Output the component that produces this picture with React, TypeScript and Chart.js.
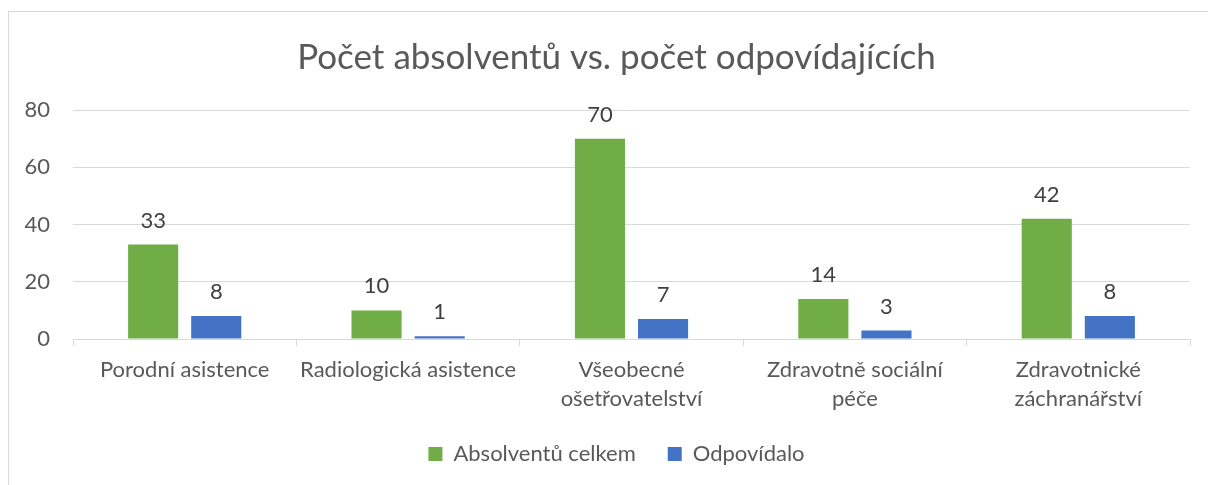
import React, { useEffect, useRef } from "react";
import { Chart, registerables } from "chart.js";

Chart.register(...registerables);

const categories: string[][] = [
  ["Porodní asistence"],
  ["Radiologická asistence"],
  ["Všeobecné", "ošetřovatelství"],
  ["Zdravotně sociální", "péče"],
  ["Zdravotnické", "záchranářství"],
];
const absolventu: number[] = [33, 10, 70, 14, 42];
const odpovidalo: number[] = [8, 1, 7, 3, 8];
const seriesNames: string[] = ["Absolventů celkem", "Odpovídalo"];
const yTicks: number[] = [0, 20, 40, 60, 80];
const titleText = "Počet absolventů vs. počet odpovídajících";

const FONT = "Lato, 'Open Sans', sans-serif";

const dataLabelPlugin = {
  id: "dataLabels",
  afterDatasetsDraw(chart: any) {
    const ctx = chart.ctx;
    ctx.save();
    ctx.font = `22px ${FONT}`;
    ctx.fillStyle = "#404040";
    ctx.textAlign = "center";
    ctx.textBaseline = "middle";
    chart.data.datasets.forEach((ds: any, di: number) => {
      const meta = chart.getDatasetMeta(di);
      meta.data.forEach((el: any, i: number) => {
        ctx.fillText(String(ds.data[i]), el.x, el.y - 24);
      });
    });
    ctx.restore();
  },
};

export default function App() {
  const ref = useRef<HTMLCanvasElement | null>(null);
  useEffect(() => {
    if (!ref.current) return;
    const chart = new Chart(ref.current, {
      type: "bar",
      data: {
        labels: categories,
        datasets: [
          {
            label: seriesNames[0],
            data: absolventu,
            backgroundColor: "#70AD47",
            categoryPercentage: 0.565,
            barPercentage: 0.794,
            yAxisID: "y",
          },
          {
            label: seriesNames[1],
            data: odpovidalo,
            backgroundColor: "#4472C4",
            categoryPercentage: 0.565,
            barPercentage: 0.794,
            yAxisID: "y",
          },
        ],
      },
      options: {
        animation: false,
        responsive: false,
        layout: { padding: { left: 0, right: 0, top: 0, bottom: 10 } },
        plugins: {
          title: {
            display: true,
            text: titleText,
            color: "#595959",
            font: { family: FONT, size: 35, weight: "normal", lineHeight: 1.2 },
            padding: { top: 25, bottom: 31 },
          },
          legend: {
            display: true,
            position: "bottom",
            labels: {
              boxWidth: 14,
              boxHeight: 14,
              padding: 32,
              color: "#595959",
              font: { family: FONT, size: 22 },
            },
          },
          tooltip: { enabled: false },
        },
        scales: {
          x: {
            grid: {
              display: true,
              drawOnChartArea: false,
              drawTicks: true,
              tickLength: 7,
              color: "#d9d9d9",
              offset: true,
            },
            border: { display: true, color: "#d9d9d9" },
            ticks: {
              color: "#595959",
              font: { family: FONT, size: 22, lineHeight: 1.318 },
              padding: 9,
              maxRotation: 0,
              autoSkip: false,
            },
            afterFit: (scale: any) => {
              scale.height = 72;
            },
          },
          y: {
            position: "left",
            min: yTicks[0],
            max: yTicks[yTicks.length - 1],
            grid: { color: "#d9d9d9", drawTicks: false },
            border: { display: false },
            ticks: {
              stepSize: yTicks[1] - yTicks[0],
              color: "#595959",
              font: { family: FONT, size: 22 },
              padding: 23,
            },
            afterFit: (scale: any) => {
              scale.width = 64;
            },
          },
          spacer: {
            type: "linear",
            position: "right",
            display: true,
            grid: { display: false, drawTicks: false },
            border: { display: false },
            ticks: { display: false },
            afterFit: (scale: any) => {
              scale.width = 34;
            },
          },
        },
      },
      plugins: [dataLabelPlugin],
    });
    return () => chart.destroy();
  }, []);

  return (
    <div
      style={{
        position: "fixed",
        left: 8,
        top: 11,
        width: 1216,
        height: 474,
        borderTop: "1px solid #d9d9d9",
        borderLeft: "1px solid #d9d9d9",
        boxSizing: "border-box",
        background: "#fff",
      }}
    >
      <canvas ref={ref} width={1215} height={473} style={{ display: "block" }} />
    </div>
  );
}
